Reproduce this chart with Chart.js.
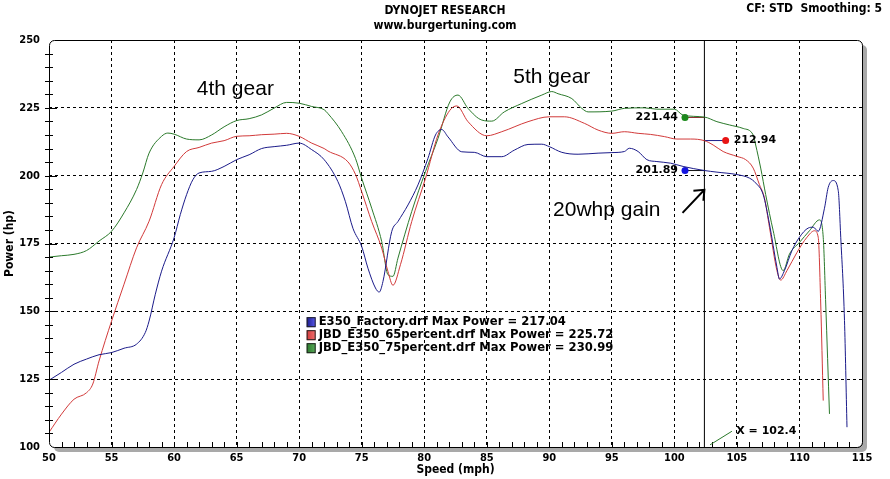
<!DOCTYPE html>
<html lang="en">
<head>
<meta charset="UTF-8">
<title>Dynojet Research - burgertuning</title>
<script src="https://cdn.jsdelivr.net/npm/chart.js"></script>
<style>
    html, body { margin: 0; padding: 0; background: #fff; }
    canvas { display: block; }
</style>
</head>
<body>
<canvas id="dyno" width="890" height="479"></canvas>
<script>
// Values (speed in mph, power in hp)
const factorySpeed = [50, 51, 52, 53, 54, 55, 56, 57, 57.7, 58, 58.5, 59, 60, 60.5, 61, 61.5, 62, 63, 64, 65, 66, 67, 68, 69, 70, 71, 72, 73.1, 73.7, 74.3, 75, 75.5, 76.1, 76.4, 76.7, 77.4, 77.9, 78.7, 79.5, 80.3, 80.9, 81.4, 81.9, 83, 84, 85, 86.2, 87.2, 88.3, 89.4, 90, 91, 92.3, 93.9, 95, 96, 96.4, 97.1, 97.8, 98.6, 99.7, 100.7, 102.4, 103.4, 105, 106, 106.5, 107.1, 107.6, 108.2, 108.4, 108.8, 109.4, 110, 110.7, 111.1, 111.5, 112, 112.3, 112.7, 113.1, 113.3, 113.6, 113.8];
const factoryPower = [124.6, 127.5, 130.5, 132.4, 134, 134.8, 136.4, 137.9, 142.2, 146.4, 156.3, 164.8, 177.1, 185.7, 193, 198.5, 201, 201.6, 203.4, 205.9, 207.7, 210, 210.7, 211.2, 212, 209.6, 205.9, 197.8, 190.4, 180.6, 173.9, 165.9, 158.6, 157.1, 161, 179.4, 183.1, 189.2, 196.6, 206.4, 215, 217, 214.3, 208.8, 208.6, 207, 207, 209.4, 211.5, 211.6, 210.7, 208.6, 207.9, 208.3, 208.5, 208.9, 210.1, 208.9, 205.9, 205.2, 204.6, 203.4, 201.9, 201.3, 200.4, 199.1, 197.3, 193, 182.2, 166.2, 161.9, 165, 172.4, 177.3, 180.7, 181, 179.5, 188, 195.7, 198.2, 194.5, 177.3, 146.6, 107.3];

const p65Speed = [50, 51, 52, 53, 53.5, 54, 55, 56, 57, 58, 59, 60, 61, 62, 63, 64, 65, 66, 67, 68, 69, 70, 71, 72, 72.3, 73.9, 74.5, 75, 75.8, 76.6, 77.1, 77.5, 78.1, 79, 80.1, 81.1, 82.05, 82.6, 83.5, 85, 86.2, 88.3, 90, 91.2, 92.8, 93.9, 95, 96, 97.1, 98.1, 99.2, 100.2, 101.3, 102.4, 103.1, 103.9, 105, 105.7, 106.3, 106.8, 107.2, 107.6, 108.2, 108.5, 109, 109.8, 110.6, 111.2, 111.5, 111.7, 111.9];
const p65Power = [105.4, 112.1, 117.6, 120, 123.2, 131.7, 146.4, 160, 173.4, 183.2, 196.7, 203.4, 208.9, 210.4, 212, 212.9, 214.5, 214.7, 215.1, 215.3, 215.6, 214.5, 212, 210, 209.1, 205.1, 200.5, 194.1, 183.1, 173.3, 164.7, 159.6, 167.2, 183.1, 199, 215, 224.1, 225.7, 219.9, 214.7, 216.2, 219.9, 221.7, 221.7, 219.3, 216.8, 215.6, 216.2, 215.6, 215.2, 214.4, 213.5, 213.5, 212.9, 211.3, 208.9, 207.1, 205.9, 202.8, 196.7, 191.8, 181, 165, 161.5, 165, 171.7, 177.3, 179.7, 177.3, 152.7, 117.1];

const p75Speed = [50, 51, 52, 53, 54, 55, 56, 57, 57.5, 58, 59, 59.5, 60, 61, 62, 63, 64, 65, 66, 67, 68, 69, 70, 71, 72, 72.3, 73.4, 74.5, 75, 75.8, 76.6, 77.1, 77.5, 77.9, 79, 80.1, 81.1, 82.05, 82.7, 83.5, 84.6, 85.4, 86.4, 87.8, 89.4, 90.2, 90.7, 91.8, 92.6, 93.1, 95, 96, 97.6, 98.6, 100, 100.7, 102.4, 103.4, 104.4, 105.5, 106.3, 106.5, 106.9, 107.3, 107.9, 108.7, 109.2, 110, 110.8, 111.6, 111.9, 112.1, 112.4];
const p75Power = [170, 170.5, 171, 172.4, 175.9, 179.5, 186.3, 194.9, 201, 208.3, 214.5, 215.7, 215.3, 213.5, 213.2, 215, 218, 220.3, 221, 222.4, 224.9, 227, 226.7, 225.5, 224.3, 222.9, 216.2, 206.4, 199, 188, 175.7, 163.5, 162.9, 169.6, 186.8, 201.5, 213.7, 227.2, 229.7, 224.8, 220.5, 220.1, 223.5, 226.6, 229.7, 231, 230.2, 228.4, 224.8, 223.5, 223.8, 224.8, 225, 224.5, 224.5, 222.3, 221.6, 219.9, 218.7, 217.4, 215, 211.3, 202.8, 193, 179.7, 165, 171.1, 175.4, 179.7, 183.7, 177.3, 152.7, 112.2];

const runNames = ['E350_Factory.drf', 'JBD_E350_65percent.drf', 'JBD_E350_75percent.drf'];
const runMaxPower = ['217.04', '225.72', '230.99'];
const cursorSpeed = 102.4;
const cursorPower = [201.89, 212.94, 221.44];
const markerSpeed = [100.85, 104.1, 100.85];

const runColors = ['#1b1b8a', '#d23a3a', '#2b7a2b'];
const dotColors = ['#1414e0', '#e81414', '#1a8a1a'];
const swatchFill = ['#5a5af0', '#f07070', '#5aaa5a'];
const leaderColors = ['#111111', '#1b1b8a', '#8a3030'];

const toXY = (xs, ys) => xs.map((x, i) => ({ x: x, y: ys[i] }));

const curve = (label, xs, ys, color) => ({
    label: label,
    data: toXY(xs, ys),
    borderColor: color,
    borderWidth: 1,
    pointRadius: 0,
    cubicInterpolationMode: 'monotone',
    fill: false
});

const datasets = [
    curve(runNames[0], factorySpeed, factoryPower, runColors[0]),
    curve(runNames[1], p65Speed, p65Power, runColors[1]),
    curve(runNames[2], p75Speed, p75Power, runColors[2]),
    {
        label: 'cursor',
        data: [{ x: cursorSpeed, y: 100 }, { x: cursorSpeed, y: 250 }],
        borderColor: '#000',
        borderWidth: 1,
        pointRadius: 0
    }
];

// marker dots with a leader back to the cursor line
cursorPower.forEach((v, i) => {
    datasets.push({
        label: 'marker' + i,
        data: [{ x: markerSpeed[i], y: v }, { x: cursorSpeed, y: v }],
        borderColor: leaderColors[i],
        borderWidth: 1,
        pointRadius: [3.5, 0],
        pointBackgroundColor: dotColors[i],
        pointBorderColor: dotColors[i],
        pointBorderWidth: 0
    });
});

const tickFont = { family: 'DejaVu Sans Condensed', size: 11, weight: 'bold' };

const dynoDecor = {
    id: 'dynoDecor',
    beforeDraw(chart) {
        const { ctx, chartArea: a } = chart;
        ctx.save();
        // grey drop shadow behind the rounded frame
        ctx.fillStyle = '#a9a9a9';
        ctx.beginPath();
        ctx.roundRect(a.left + 5, a.top + 5, a.right - a.left, a.bottom - a.top, 5);
        ctx.fill();
        ctx.fillStyle = '#fff';
        ctx.beginPath();
        ctx.roundRect(a.left, a.top, a.right - a.left, a.bottom - a.top, 5);
        ctx.fill();
        ctx.restore();
    },
    afterDatasetsDraw(chart) {
        const { ctx, chartArea: a, scales } = chart;
        const xs = scales.x, ys = scales.y;
        ctx.save();
        ctx.strokeStyle = '#000';
        ctx.lineWidth = 1;
        ctx.beginPath();
        ctx.roundRect(a.left + 0.5, a.top + 0.5, a.right - a.left, a.bottom - a.top, 5);
        ctx.stroke();

        // minor ticks
        ctx.beginPath();
        for (let s = 51; s < 115; s++) {
            const px = Math.round(xs.getPixelForValue(s)) + 0.5;
            ctx.moveTo(px, a.bottom - 5);
            ctx.lineTo(px, a.bottom + 1);
        }
        for (let p = 105; p < 250; p += 5) {
            const py = Math.round(ys.getPixelForValue(p)) + 0.5;
            const len = p % 25 === 0 ? 8 : 4;
            ctx.moveTo(a.left - 4, py);
            ctx.lineTo(a.left + len, py);
        }
        ctx.stroke();

        // arrow near "20whp gain"
        const ax0 = xs.getPixelForValue(100.65), ay0 = ys.getPixelForValue(186.3);
        const ax1 = xs.getPixelForValue(102.4), ay1 = ys.getPixelForValue(194.8);
        ctx.lineWidth = 2;
        ctx.beginPath();
        ctx.moveTo(ax0, ay0);
        ctx.lineTo(ax1, ay1);
        ctx.moveTo(ax1 - 11, ay1 + 1);
        ctx.lineTo(ax1, ay1);
        ctx.lineTo(ax1 - 1, ay1 + 11);
        ctx.stroke();

        // "X = 102.4" leader
        ctx.lineWidth = 1;
        ctx.strokeStyle = '#2b7a2b';
        ctx.beginPath();
        ctx.moveTo(xs.getPixelForValue(102.85), ys.getPixelForValue(100.8));
        ctx.lineTo(xs.getPixelForValue(104.6), ys.getPixelForValue(105.8));
        ctx.stroke();
        ctx.restore();
    },
    afterDraw(chart) {
        const { ctx, scales } = chart;
        const xs = scales.x, ys = scales.y;
        ctx.save();
        ctx.fillStyle = '#000';
        ctx.textBaseline = 'middle';

        ctx.font = 'bold 12px "DejaVu Sans Condensed"';
        ctx.textAlign = 'center';
        ctx.fillText('DYNOJET RESEARCH', 445, 11);
        ctx.fillText('www.burgertuning.com', 445, 26);
        ctx.textAlign = 'right';
        ctx.fillText('CF: STD  Smoothing: 5', 882, 9);

        // gear annotations
        ctx.font = '21px "Liberation Sans"';
        ctx.textAlign = 'center';
        ctx.fillText('4th gear', xs.getPixelForValue(64.9), ys.getPixelForValue(232));
        ctx.fillText('5th gear', xs.getPixelForValue(90.2), ys.getPixelForValue(236.4));
        ctx.textAlign = 'left';
        ctx.fillText('20whp gain', xs.getPixelForValue(90.3), ys.getPixelForValue(187.2));

        // cursor readouts
        ctx.font = 'bold 11px "DejaVu Sans"';
        ctx.textAlign = 'right';
        ctx.fillText(cursorPower[2].toFixed(2), xs.getPixelForValue(markerSpeed[2]) - 7, ys.getPixelForValue(cursorPower[2]));
        ctx.fillText(cursorPower[0].toFixed(2), xs.getPixelForValue(markerSpeed[0]) - 7, ys.getPixelForValue(cursorPower[0]));
        ctx.textAlign = 'left';
        ctx.fillText(cursorPower[1].toFixed(2), xs.getPixelForValue(markerSpeed[1]) + 8, ys.getPixelForValue(cursorPower[1]));
        ctx.fillText('X = ' + cursorSpeed, xs.getPixelForValue(104.95), ys.getPixelForValue(106));

        // legend box inside plot
        const lx = xs.getPixelForValue(70.6);
        let ly = ys.getPixelForValue(146);
        runNames.forEach((name, i) => {
            const g = ctx.createLinearGradient(lx, 0, lx + 9, 0);
            g.addColorStop(0, runColors[i]);
            g.addColorStop(1, swatchFill[i]);
            ctx.fillStyle = g;
            ctx.fillRect(lx, ly - 5, 9, 10);
            ctx.strokeStyle = '#222';
            ctx.lineWidth = 1;
            ctx.strokeRect(lx + 0.5, ly - 4.5, 8, 9);
            ctx.fillStyle = '#000';
            ctx.font = 'bold 11.6px "DejaVu Sans"';
            ctx.fillText(name + ' Max Power = ' + runMaxPower[i], lx + 12, ly);
            ly += 13;
        });
        ctx.restore();
    }
};

new Chart(document.getElementById('dyno'), {
    type: 'line',
    data: { datasets: datasets },
    options: {
        responsive: false,
        animation: false,
        devicePixelRatio: 1,
        layout: { padding: { top: 40, right: 28, left: 0, bottom: 0 } },
        plugins: {
            legend: { display: false },
            tooltip: { enabled: false }
        },
        scales: {
            x: {
                type: 'linear',
                min: 50,
                max: 115,
                ticks: { stepSize: 5, color: '#000', font: tickFont, padding: 5, maxRotation: 0 },
                grid: {
                    drawTicks: false,
                    color: c => (c.tick && (c.tick.value === 50 || c.tick.value === 115)) ? 'rgba(0,0,0,0)' : '#000'
                },
                border: { display: false, dash: [3, 3] },
                title: {
                    display: true,
                    text: 'Speed (mph)',
                    color: '#000',
                    font: { family: 'DejaVu Sans Condensed', size: 12, weight: 'bold' },
                    padding: { top: 0, bottom: 2 }
                },
                afterFit: s => { s.height = 32; }
            },
            y: {
                min: 100,
                max: 250,
                ticks: { stepSize: 25, color: '#000', font: tickFont, padding: 9 },
                grid: {
                    drawTicks: false,
                    color: c => (c.tick && (c.tick.value === 100 || c.tick.value === 250)) ? 'rgba(0,0,0,0)' : '#000'
                },
                border: { display: false, dash: [3, 3] },
                title: {
                    display: true,
                    text: 'Power (hp)',
                    color: '#000',
                    font: { family: 'DejaVu Sans Condensed', size: 12, weight: 'bold' },
                    padding: { top: 3, bottom: 0 }
                },
                afterFit: s => { s.width = 49; }
            }
        }
    },
    plugins: [dynoDecor]
});
</script>
</body>
</html>
